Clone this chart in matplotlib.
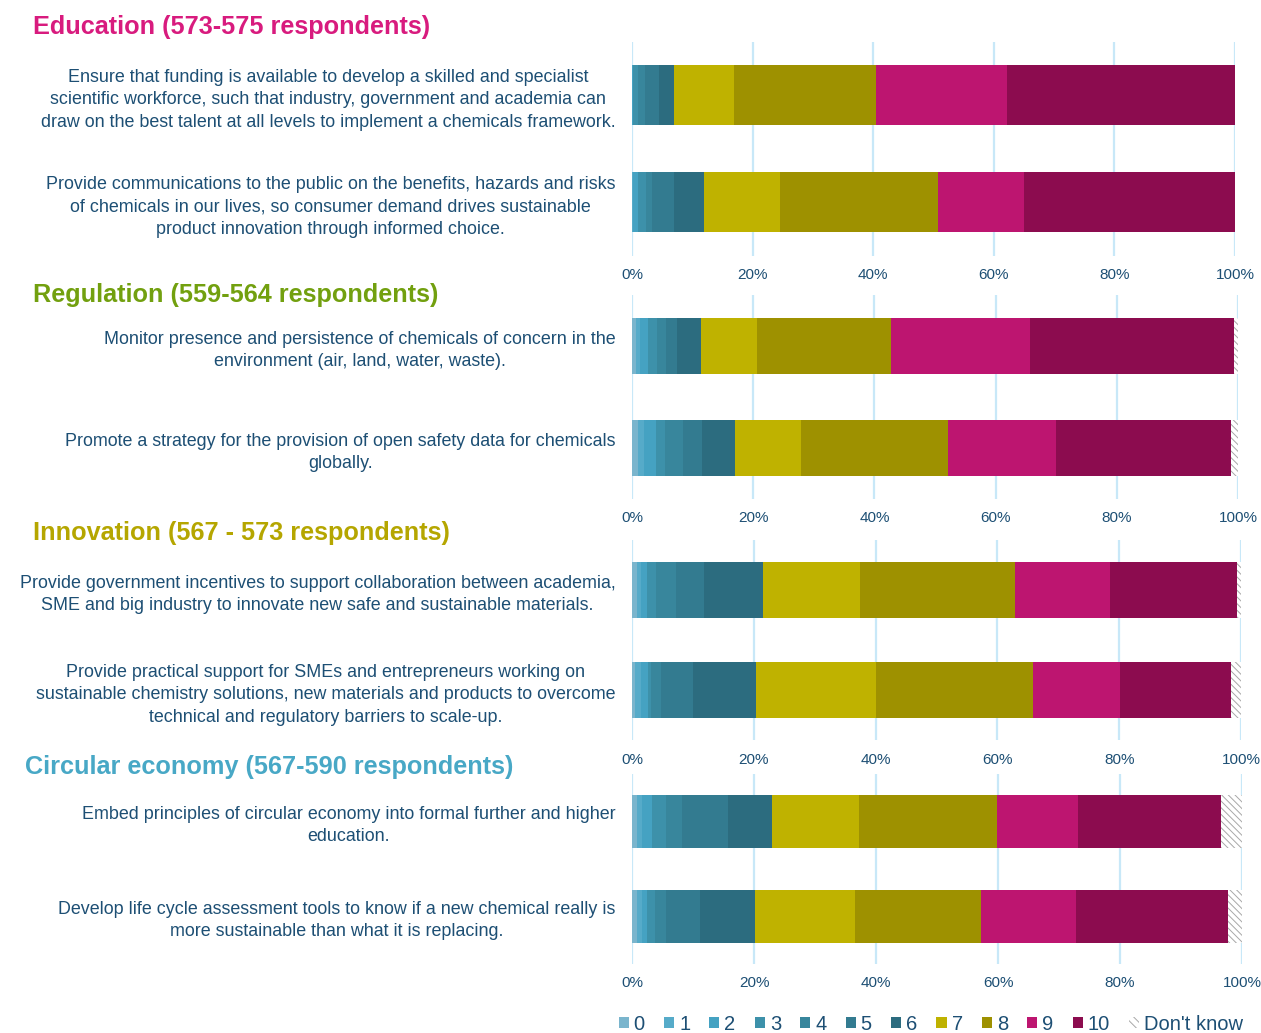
import numpy as np
import matplotlib.pyplot as plt
from matplotlib.patches import Patch

plt.rcParams['font.family'] = ['Liberation Sans', 'DejaVu Sans']
plt.rcParams['hatch.linewidth'] = 0.7

# answer categories and their colours
categories = ['0', '1', '2', '3', '4', '5', '6', '7', '8', '9', '10', "Don't know"]
colors = ['#7ab5cd', '#56abc9', '#45a2c2', '#3d91aa', '#38869c', '#337b90', '#2c6c7f',
          '#bfb200', '#9e9100', '#bd1570', '#8c0c4f', 'white']

# section titles
titles = ['Education (573-575 respondents)', 'Regulation (559-564 respondents)',
          'Innovation (567 - 573 respondents)', 'Circular economy (567-590 respondents)']
title_colors = ['#d81b7e', '#72a00f', '#b5a600', '#48a8c6']

# statements per section
labels = [
    ['Ensure that funding is available to develop a skilled and specialist\n'
     'scientific workforce, such that industry, government and academia can\n'
     'draw on the best talent at all levels to implement a chemicals framework.',
     'Provide communications to the public on the benefits, hazards and risks\n'
     'of chemicals in our lives, so consumer demand drives sustainable\n'
     'product innovation through informed choice.'],
    ['Monitor presence and persistence of chemicals of concern in the\n'
     'environment (air, land, water, waste).',
     'Promote a strategy for the provision of open safety data for chemicals\n'
     'globally.'],
    ['Provide government incentives to support collaboration between academia,\n'
     'SME and big industry to innovate new safe and sustainable materials.',
     'Provide practical support for SMEs and entrepreneurs working on\n'
     'sustainable chemistry solutions, new materials and products to overcome\n'
     'technical and regulatory barriers to scale-up.'],
    ['Embed principles of circular economy into formal further and higher\n'
     'education.',
     'Develop life cycle assessment tools to know if a new chemical really is\n'
     'more sustainable than what it is replacing.'],
]

# percentage of respondents per score (0..10, don't know)
edu_funding = [0.0, 0.0, 0.2, 0.8, 1.1, 2.4, 2.5, 9.9, 23.5, 21.8, 37.8, 0.0]
edu_comms = [0.0, 0.2, 0.8, 1.4, 0.9, 3.6, 5.0, 12.6, 26.2, 14.3, 35.0, 0.0]
reg_monitor = [0.7, 0.6, 1.4, 1.4, 1.5, 1.8, 4.0, 9.2, 22.1, 23.0, 33.6, 0.7]
reg_data = [1.0, 1.0, 2.0, 1.4, 3.0, 3.1, 5.5, 10.9, 24.2, 17.9, 28.8, 1.2]
inn_incent = [0.9, 0.5, 1.0, 1.5, 3.4, 4.5, 9.7, 15.9, 25.5, 15.6, 20.8, 0.7]
inn_sme = [0.5, 1.0, 1.2, 0.4, 1.6, 5.3, 10.4, 19.6, 25.8, 14.3, 18.3, 1.6]
circ_edu = [0.9, 0.8, 1.5, 2.4, 2.6, 7.6, 7.2, 14.2, 22.6, 13.3, 23.5, 3.4]
circ_lca = [0.9, 0.7, 0.8, 1.4, 1.8, 5.5, 9.1, 16.4, 20.6, 15.6, 24.9, 2.3]

sections = [[edu_funding, edu_comms], [reg_monitor, reg_data],
            [inn_incent, inn_sme], [circ_edu, circ_lca]]

W, H = 1261, 1033
fig = plt.figure(figsize=(W / 100, H / 100), dpi=100)

# panel geometry in pixels: bar centres, bar height, right edge
centres = [(95, 202), (346, 448), (590, 690), (821, 916)]
bar_px = [60, 56, 56, 53]
right_px = [1235, 1238, 1241, 1242]
title_pos = [(33, 27), (33, 295), (33, 533), (25, 767)]
text_col = '#1d4f74'
grid_col = '#c8e8f8'

for i, rows in enumerate(sections):
    c1, c2 = centres[i]
    sp = c2 - c1
    top, bot = c1 - sp / 2, c2 + sp / 2
    ax = fig.add_axes([632 / W, 1 - bot / H, (right_px[i] - 632) / W, (bot - top) / H])
    data = np.array(rows)
    left = np.zeros(len(rows))
    y = np.arange(len(rows))
    for k, cat in enumerate(categories):
        if k == len(categories) - 1:
            ax.barh(y, data[:, k], left=left, height=bar_px[i] / sp, color='white',
                    edgecolor='#a8a8a8', hatch='\\\\\\\\\\', linewidth=0, zorder=3)
        else:
            ax.barh(y, data[:, k], left=left, height=bar_px[i] / sp, color=colors[k],
                    linewidth=0, zorder=3)
        left += data[:, k]
    ax.set_xlim(0, 100)
    ax.set_ylim(1.5, -0.5)
    ax.set_xticks(np.arange(0, 101, 20))
    ax.set_xticklabels([f'{v}%' for v in range(0, 101, 20)])
    ax.xaxis.grid(True, color=grid_col, linewidth=1.6, zorder=0)
    ax.set_axisbelow(True)
    for s in ax.spines.values():
        s.set_visible(False)
    ax.tick_params(axis='x', length=0, pad=9, labelsize=11, labelcolor=text_col)
    ax.set_yticks(y)
    ax.set_yticklabels(labels[i], fontsize=12.9, color=text_col, ma='center',
                       linespacing=1.42)
    ax.tick_params(axis='y', length=0, pad=12)
    tx, ty = title_pos[i]
    fig.text(tx / W, 1 - ty / H, titles[i], fontsize=18.2, fontweight='bold',
             color=title_colors[i], ha='left', va='center')

handles = []
for k, cat in enumerate(categories):
    if k == len(categories) - 1:
        handles.append(Patch(facecolor='white', edgecolor='#a8a8a8', hatch='\\\\\\\\',
                             linewidth=0, label=cat))
    else:
        handles.append(Patch(facecolor=colors[k], label=cat))
leg = fig.legend(handles=handles, loc='center', bbox_to_anchor=(931 / W, 1 - 1024 / H),
                 ncol=12, frameon=False, fontsize=14.5, handlelength=0.5, handleheight=0.5,
                 handletextpad=0.25, columnspacing=0.95, borderpad=0)
for t in leg.get_texts():
    t.set_color(text_col)

fig.savefig('out.png', dpi=100)
